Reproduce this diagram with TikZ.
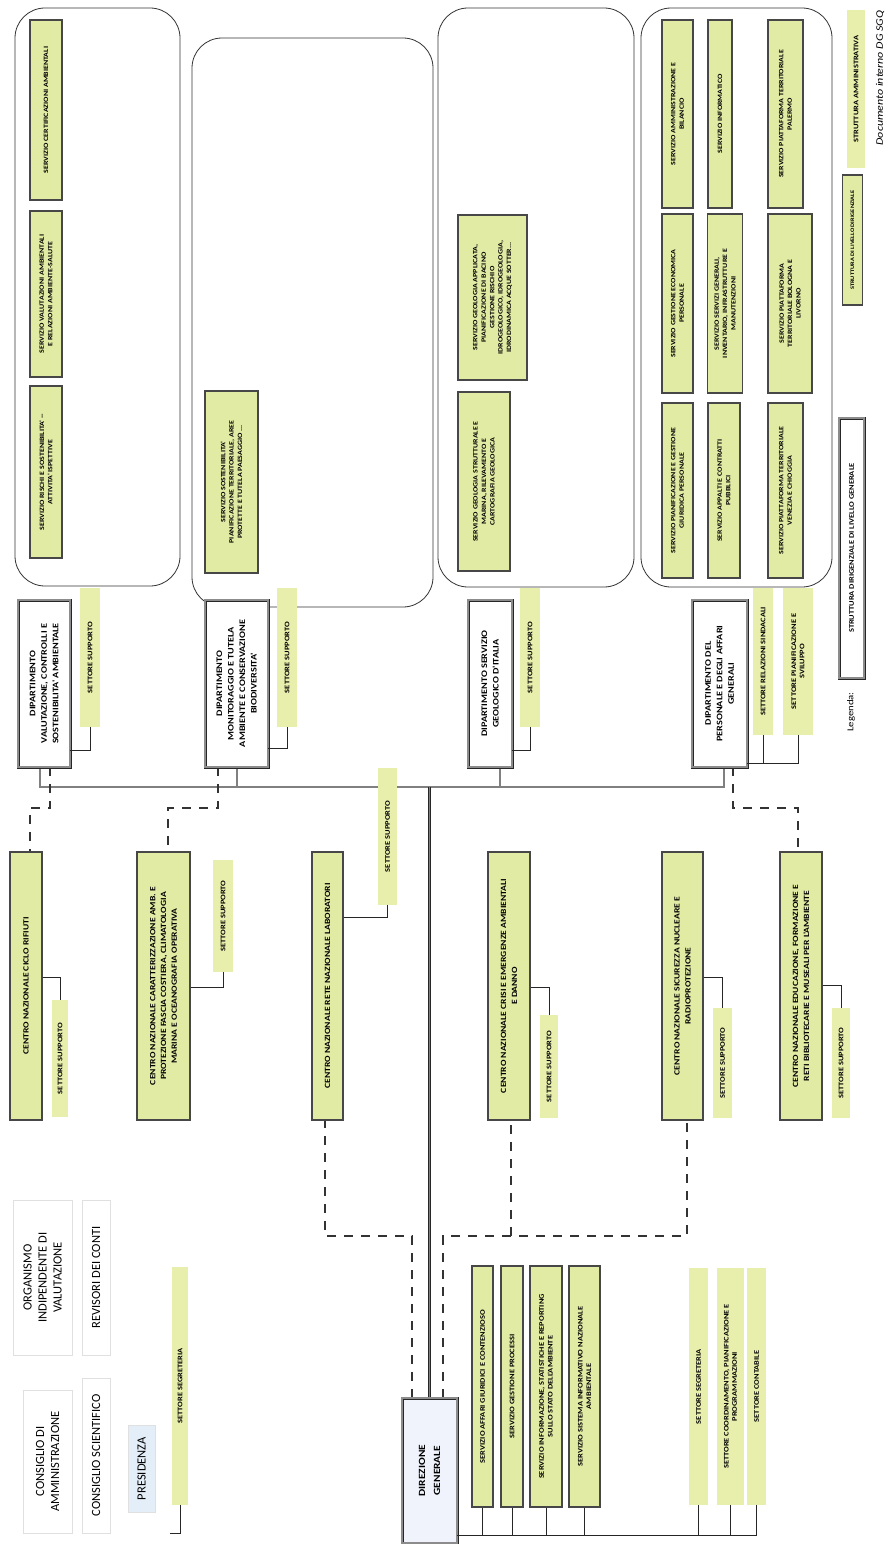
\documentclass[tikz,border=0pt]{standalone}
\usepackage{fontspec}
\setmainfont{Carlito}
\newfontfamily\wf{Carlito}[FakeStretch=1.2]
\pgfdeclarelayer{bg}
\pgfsetlayers{bg,main}
\definecolor{grn}{HTML}{E2EBA4}
\definecolor{grnA}{HTML}{E8EEAC}
\definecolor{dgbg}{HTML}{F0F3FB}
\definecolor{presbg}{HTML}{E4EEF8}
\tikzset{
  rbox/.style={rotate=90, inner sep=1pt, align=center},
  svc/.style={rbox, fill=grn, draw=black!72, line width=1.6pt, font=\wf\bfseries\fontsize{6.6}{8.4}\selectfont},
  sett/.style={rbox, fill=grnA, font=\wf\bfseries\fontsize{7}{8.4}\selectfont},
  dipb/.style={rbox, fill=white, draw=black!85, line width=0.8pt, double=black!45, double distance=1.4pt, font=\wf\bfseries\fontsize{8.5}{11.5}\selectfont},
  cen/.style={rbox, fill=grn, draw=black!72, line width=1.8pt, font=\wf\bfseries\fontsize{8}{10.8}\selectfont},
  grp/.style={draw=black!80, line width=0.8pt, rounded corners=30pt},
  bus/.style={draw=black!85, line width=0.7pt, double=black!50, double distance=1.1pt},
  thin/.style={draw=black!85, line width=0.8pt},
  dashc/.style={draw=black!80, line width=1.7pt, dash pattern=on 9pt off 8pt},
  cons/.style={rbox, draw=black!12, line width=0.5pt, font=\fontsize{12.5}{15}\selectfont},
}
\begin{document}
\begin{tikzpicture}[x=1pt,y=-1pt]
\begin{pgfonlayer}{bg}
\fill[white] (0,0) rectangle (888,1544);
\draw[grp] (15,8) rectangle (180,586);
\draw[grp] (192,38) rectangle (433,607);
\draw[grp] (438,8) rectangle (634,587);
\draw[grp] (641,8) rectangle (832,587);
\end{pgfonlayer}
\useasboundingbox (0,0) rectangle (888,1544);

% ---- service boxes in groups
\node[svc, minimum width=180pt, minimum height=32pt] (a1) at (46,110) {SERVIZIO CERTIFICAZIONI AMBIENTALI};
\node[svc, minimum width=166pt, minimum height=32pt] (a2) at (46,294) {SERVIZIO VALUTAZIONI AMBIENTALI\\E RELAZIONI AMBIENTE-SALUTE};
\node[svc, minimum width=172pt, minimum height=32pt] (a3) at (46,472) {SERVIZIO RISCHI E SOSTENIBILITA' --\\ATTIVITA' ISPETTIVE};
\node[svc, minimum width=182pt, minimum height=53pt] (b1) at (231.5,482) {SERVIZIO SOSTENIBILITA'\\PIANIFICAZIONE TERRITORIALE, AREE\\PROTETTE E TUTELA PAESAGGIO ...};
\node[svc, minimum width=179pt, minimum height=52pt] (c1s) at (484,481.5) {SERVIZIO GEOLOGIA STRUTTURALE E\\MARINA, RILEVAMENTO E\\CARTOGRAFIA GEOLOGICA};
\node[svc, minimum width=165pt, minimum height=69pt] (c2s) at (492.5,297.5) {SERVIZIO GEOLOGIA APPLICATA,\\PIANIFICAZIONE DI BACINO\\GESTIONE RISCHIO\\IDROGEOLOGICO, IDROGEOLOGIA,\\IDRODINAMICA ACQUE SOTTER...};
\node[svc, minimum width=188pt, minimum height=31pt] (d11) at (677.5,114) {SERVIZIO AMMINISTRAZIONE E\\BILANCIO};
\node[svc, minimum width=188pt, minimum height=24pt] (d12) at (720,114) {SERVIZIO INFORMATICO};
\node[svc, minimum width=188pt, minimum height=35pt] (d13) at (785.5,114) {SERVIZIO PIATTAFORMA TERRITORIALE\\PALERMO};
\node[svc, minimum width=179pt, minimum height=31pt] (d21) at (677.5,303.5) {SERVIZIO GESTIONE ECONOMICA\\PERSONALE};
\node[svc, minimum width=179pt, minimum height=35pt] (d22) at (725,303.5) {SERVIZIO SERVIZI GENERALI,\\INVENTARIO, INFRASTRUTTURE E\\MANUTENZIONI};
\node[svc, minimum width=179pt, minimum height=44pt] (d23) at (790,303.5) {SERVIZIO PIATTAFORMA\\TERRITORIALE BOLOGNA E\\LIVORNO};
\node[svc, minimum width=175pt, minimum height=31pt] (d31) at (677.5,490.5) {SERVIZIO PIANIFICAZIONE E GESTIONE\\GIURIDICA PERSONALE};
\node[svc, minimum width=175pt, minimum height=32pt] (d32) at (724,490.5) {SERVIZIO APPALTI E CONTRATTI\\PUBBLICI};
\node[svc, minimum width=175pt, minimum height=35pt] (d33) at (785.5,490.5) {SERVIZIO PIATTAFORMA TERRITORIALE\\VENEZIA E CHIOGGIA};

% ---- dipartimenti
\node[dipb, minimum width=167pt, minimum height=52pt] (dip1) at (44,683.5) {DIPARTIMENTO\\VALUTAZIONE, CONTROLLI E\\SOSTENIBILITA' AMBIENTALE};
\node[sett, minimum width=139pt, minimum height=20pt] (set1) at (90,657.5) {SETTORE SUPPORTO};
\node[dipb, minimum width=167pt, minimum height=63pt] (dip2) at (236.5,683.5) {DIPARTIMENTO\\MONITORAGGIO E TUTELA\\AMBIENTE E CONSERVAZIONE\\BIODIVERSITA'};
\node[sett, minimum width=139pt, minimum height=20pt] (set2) at (287,657.5) {SETTORE SUPPORTO};
\node[dipb, minimum width=167pt, minimum height=44pt] (dip3) at (490,683.5) {DIPARTIMENTO SERVIZIO\\GEOLOGICO D'ITALIA};
\node[sett, minimum width=139pt, minimum height=20pt] (set3) at (530,657.5) {SETTORE SUPPORTO};
\node[dipb, minimum width=167pt, minimum height=55pt] (dip4) at (719.5,683.5) {DIPARTIMENTO DEL\\PERSONALE E DEGLI AFFARI\\GENERALI};
\node[sett, minimum width=147pt, minimum height=20pt] (setRel) at (763,661.5) {SETTORE RELAZIONI SINDACALI};
\node[sett, minimum width=147pt, minimum height=30pt] (setPian) at (798,661.5) {SETTORE PIANIFICAZIONE E\\SVILUPPO};

% ---- centri nazionali
\node[cen, minimum width=268pt, minimum height=32pt] (cn1) at (26,986) {CENTRO NAZIONALE CICLO RIFIUTI};
\node[cen, minimum width=268pt, minimum height=53pt] (cn2) at (163.5,986) {CENTRO NAZIONALE CARATTERIZZAZIONE AMB. E\\PROTEZIONE FASCIA COSTIERA, CLIMATOLOGIA\\MARINA E OCEANOGRAFIA OPERATIVA};
\node[cen, minimum width=268pt, minimum height=31pt] (cn3) at (327.5,986) {CENTRO NAZIONALE RETE NAZIONALE LABORATORI};
\node[cen, minimum width=268pt, minimum height=42pt] (cn4) at (509,986) {CENTRO NAZIONALE CRISI E EMERGENZE AMBIENTALI\\E DANNO};
\node[cen, minimum width=268pt, minimum height=41pt] (cn5) at (682.5,986) {CENTRO NAZIONALE SICUREZZA NUCLEARE E\\RADIOPROTEZIONE};
\node[cen, minimum width=268pt, minimum height=42pt] (cn6) at (801,986) {CENTRO NAZIONALE EDUCAZIONE, FORMAZIONE E\\RETI BIBLIOTECARIE E MUSEALI PER L'AMBIENTE};
\node[sett, minimum width=117pt, minimum height=16pt] (sc1) at (60,1058.5) {SETTORE SUPPORTO};
\node[sett, minimum width=112pt, minimum height=20pt] (sc2) at (223,916) {SETTORE SUPPORTO};
\node[sett, minimum width=137pt, minimum height=19pt] (sc3) at (387.5,836.5) {SETTORE SUPPORTO};
\node[sett, minimum width=103pt, minimum height=18pt] (sc4) at (549,1066.5) {SETTORE SUPPORTO};
\node[sett, minimum width=110pt, minimum height=19pt] (sc5) at (722.5,1063) {SETTORE SUPPORTO};
\node[sett, minimum width=110pt, minimum height=18pt] (sc6) at (841,1063) {SETTORE SUPPORTO};

% ---- direzione generale
\node[dipb, fill=dgbg, minimum width=145pt, minimum height=55pt, font=\wf\bfseries\fontsize{9.5}{15}\selectfont] (DG) at (429.5,1470.5) {DIREZIONE\\GENERALE};
\node[svc, font=\wf\bfseries\fontsize{7}{8.6}\selectfont, minimum width=241pt, minimum height=21pt] (sg1) at (482.5,1386.5) {SERVIZIO AFFARI GIURIDICI E CONTENZIOSO};
\node[svc, font=\wf\bfseries\fontsize{7}{8.6}\selectfont, minimum width=241pt, minimum height=22pt] (sg2) at (512,1386.5) {SERVIZIO GESTIONE PROCESSI};
\node[svc, font=\wf\bfseries\fontsize{7}{8.6}\selectfont, minimum width=241pt, minimum height=32pt] (sg3) at (546,1386.5) {SERVIZIO INFORMAZIONE, STATISTICHE E REPORTING\\SULLO STATO DELL'AMBIENTE};
\node[svc, font=\wf\bfseries\fontsize{7}{8.6}\selectfont, minimum width=241pt, minimum height=31pt] (sg4) at (584.5,1386.5) {SERVIZIO SISTEMA INFORMATIVO NAZIONALE\\AMBIENTALE};
\node[sett, minimum width=237pt, minimum height=19pt] (ss1) at (698.5,1386.5) {SETTORE SEGRETERIA};
\node[sett, minimum width=237pt, minimum height=27pt] (ss2) at (730.5,1386.5) {SETTORE COORDINAMENTO, PIANIFICAZIONE E\\PROGRAMMAZIONI};
\node[sett, minimum width=237pt, minimum height=19pt] (ss3) at (756.5,1386.5) {SETTORE CONTABILE};

% ---- organi
\node[cons, minimum width=143pt, minimum height=49pt] (cda) at (47.5,1461.5) {CONSIGLIO DI\\AMMINISTRAZIONE};
\node[cons, minimum width=155pt, minimum height=28pt] (csc) at (96,1455.5) {CONSIGLIO SCIENTIFICO};
\node[cons, minimum width=155pt, minimum height=59pt] (oiv) at (42.5,1277.5) {ORGANISMO\\INDIPENDENTE DI\\VALUTAZIONE};
\node[cons, minimum width=155pt, minimum height=28pt] (rev) at (96,1277.5) {REVISORI DEI CONTI};
\node[cons, fill=presbg, minimum width=87pt, minimum height=27pt] (pres) at (141.5,1468.5) {PRESIDENZA};
\node[sett, minimum width=238pt, minimum height=16pt] (sseg) at (180,1386) {SETTORE SEGRETERIA};

% ---- legenda
\node[sett, minimum width=158pt, minimum height=18pt] (legA) at (856,89) {STRUTTURA AMMINISTRATIVA};
\node[svc, line width=1.3pt, font=\wf\bfseries\fontsize{5.3}{7}\selectfont, minimum width=130pt, minimum height=20pt] (legD) at (852.5,240) {STRUTTURA DI LIVELLO DIRIGENZIALE};
\node[dipb, font=\wf\bfseries\fontsize{7}{8}\selectfont, minimum width=260pt, minimum height=25pt] (legG) at (851.5,548) {STRUTTURA DIRIGENZIALE DI LIVELLO GENERALE};
\node[rbox, font=\wf\fontsize{9}{10}\selectfont] (legT) at (851,712) {Legenda:};
\node[rbox, font=\wf\itshape\fontsize{10}{11}\selectfont] (doc) at (880,78) {Documento interno DG SGQ};

% ---- connectors
\coordinate (busL) at (40,787);
\coordinate (busR) at (724,787);
\begin{pgfonlayer}{bg}
\draw[bus] (dip1.west -| busL) -- (busL) -- (busR) -- (dip4.west -| busR);
\draw[bus] (dip2.west -| 237,0) -- (busL -| 237,0);
\draw[bus] (dip3.west -| 500,0) -- (busL -| 500,0);
\draw[bus] (DG.east) -- (DG.east |- busL);
% dashed links
\draw[dashc] (dip1.west -| 50,0) |- (30,808) -- (cn1.east -| 30,0);
\draw[dashc] (dip2.west -| 218,0) |- (168,808) -- (cn2.east -| 168,0);
\draw[dashc] (dip4.west -| 733,0) |- (798,808) -- (cn6.east -| 798,0);
\draw[dashc] (DG.east -| 412,0) |- (325,1236) -- (cn3.west -| 325,0);
\draw[dashc] (DG.east -| 443,0) |- (687,1236) -- (cn5.west -| 687,0);
\coordinate (j4) at (511,1236);
\draw[dashc] (j4) -- (cn4.west -| j4);
\end{pgfonlayer}
% settori links
\draw[thin] (set1.west) |- (dip1.south |- 0,750);
\draw[thin] (set2.west) |- (dip2.south |- 0,748);
\draw[thin] (set3.west) |- (dip3.south |- 0,750);
\coordinate (d4r) at (dip4.south |- 0,763);
\draw[thin] (d4r) -| (setPian.west);
\draw[thin] (setRel.west) -- (setRel.west |- d4r);
\draw[thin] (cn1.south |- 0,977) -| (sc1.east);
\draw[thin] (cn2.south |- 0,987) -| (sc2.west);
\draw[thin] (cn3.south |- 0,917) -| (sc3.west);
\draw[thin] (cn4.south |- 0,987) -| (sc4.east);
\draw[thin] (cn5.south |- 0,977) -| (sc5.east);
\draw[thin] (cn6.south |- 0,985) -| (sc6.east);
\coordinate (dgL) at (DG.south |- 0,1535);
\draw[thin] (dgL) -- (dgL -| ss3.west);
\foreach \n in {sg1,sg2,sg3,sg4,ss1,ss2,ss3} \draw[thin] (\n.west) -- (\n.west |- dgL);
\coordinate (segEnd) at (170,1533);
\draw[thin] (sseg.west) |- (segEnd);
\end{tikzpicture}
\end{document}
